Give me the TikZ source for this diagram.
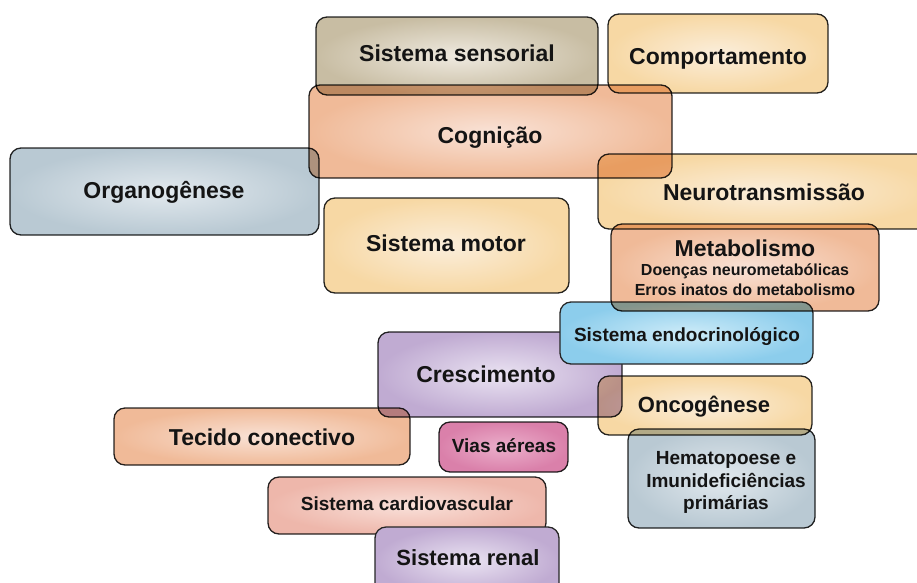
\documentclass[tikz,border=0pt]{standalone}
\usepackage{fontspec}
\setmainfont{Liberation Sans}
\definecolor{tanO}{HTML}{C8BDA3}
\definecolor{tanI}{HTML}{EFEAE0}
\definecolor{orO}{HTML}{F7D8A4}
\definecolor{orI}{HTML}{FBEEDB}
\definecolor{saO}{HTML}{F0BA98}
\definecolor{saI}{HTML}{F9E2D6}
\definecolor{bgO}{HTML}{B9C9D3}
\definecolor{bgI}{HTML}{E2E9EE}
\definecolor{lbO}{HTML}{8CCDEC}
\definecolor{lbI}{HTML}{CDEBF8}
\definecolor{puO}{HTML}{C0ABD2}
\definecolor{puI}{HTML}{EAE3F2}
\definecolor{piO}{HTML}{DA80AA}
\definecolor{piI}{HTML}{EBAFCB}
\definecolor{cvO}{HTML}{EEB7AB}
\definecolor{cvI}{HTML}{F9E0D9}
\tikzset{
  bx/.style={draw=black!85, line width=1.3pt, rounded corners=11pt, shading=radial, inner sep=0pt, rectangle},
  tanc/.style={inner color=tanI, outer color=tanO},
  orc/.style={inner color=orI, outer color=orO},
  sac/.style={inner color=saI, outer color=saO},
  bgc/.style={inner color=bgI, outer color=bgO},
  lbc/.style={inner color=lbI, outer color=lbO},
  puc/.style={inner color=puI, outer color=puO},
  pic/.style={inner color=piI, outer color=piO},
  cvc/.style={inner color=cvI, outer color=cvO},
  big/.style={anchor=base, inner sep=0pt, font=\fontsize{23}{27}\selectfont\bfseries, text=black!92},
  mid/.style={anchor=base, inner sep=0pt, font=\fontsize{22}{26}\selectfont\bfseries, text=black!92},
  sml/.style={anchor=base, inner sep=0pt, font=\fontsize{19}{22}\selectfont\bfseries, text=black!92},
  tiny/.style={anchor=base, inner sep=0pt, font=\fontsize{16}{20}\selectfont\bfseries, text=black!92},
}
\begin{document}
\begin{tikzpicture}[x=1pt,y=-1pt]
\useasboundingbox (0,0) rectangle (917,582);
\clip (0,0) rectangle (917,582);
\begin{scope}[blend mode=multiply]
\node[bx,tanc,minimum width=282pt,minimum height=78pt] (sens) at (457,56) {};
\node[bx,orc,minimum width=220pt,minimum height=79pt] (comp) at (718,53.5) {};
\node[bx,sac,minimum width=363pt,minimum height=93pt] (cogn) at (490.5,131.5) {};
\node[bx,bgc,minimum width=309pt,minimum height=87pt] (organ) at (164.5,191.5) {};
\node[bx,orc,minimum width=337pt,minimum height=75pt] (neuro) at (766.5,191.5) {};
\node[bx,orc,minimum width=245pt,minimum height=95pt] (motor) at (446.5,245.5) {};
\node[bx,puc,minimum width=244pt,minimum height=85pt] (cresc) at (500,374.5) {};
\node[bx,orc,minimum width=214pt,minimum height=59pt] (onco) at (705,405.5) {};
\node[bx,sac,minimum width=296pt,minimum height=57pt] (tecido) at (262,436.5) {};
\node[bx,pic,minimum width=129pt,minimum height=50pt] (vias) at (503.5,447) {};
\node[bx,bgc,minimum width=187pt,minimum height=99pt] (hemato) at (721.5,478.5) {};
\node[bx,cvc,minimum width=278pt,minimum height=57pt] (cardio) at (407,505.5) {};
\end{scope}
\node[bx,lbc,minimum width=253pt,minimum height=62pt] (endo) at (686.5,333) {};
\node[bx,puc,minimum width=184pt,minimum height=68pt] (renal) at (467,561) {};
\begin{scope}[blend mode=multiply]
\node[bx,sac,minimum width=268pt,minimum height=87pt] (metab) at (745,267.5) {};
\end{scope}
\node[big] (tsens) at (457,61.5) {Sistema sensorial};
\node[big] (tcomp) at (718,64.3) {Comportamento};
\node[big] (tcogn) at (490,143) {Cognição};
\node[big] (torgan) at (164,198.3) {Organogênese};
\node[big] (tneuro) at (764,200.6) {Neurotransmissão};
\node[big] (tmotor) at (446,251.6) {Sistema motor};
\node[big] (tmetab) at (745,256.6) {Metabolismo};
\node[tiny] (tmetab2) at (745,275.7) {Doenças neurometabólicas};
\node[tiny] (tmetab3) at (745,295.7) {Erros inatos do metabolismo};
\node[sml] (tendo) at (687,341.8) {Sistema endocrinológico};
\node[big] (tcresc) at (486,382.3) {Crescimento};
\node[mid] (tonco) at (704,412.2) {Oncogênese};
\node[big] (ttecido) at (262,445) {Tecido conectivo};
\node[sml] (tvias) at (504,452.5) {Vias aéreas};
\node[sml] (themato1) at (726,464.5) {Hematopoese e};
\node[sml] (themato2) at (726,487.3) {Imunideficiências};
\node[sml] (themato3) at (726,509) {primárias};
\node[sml] (tcardio) at (407,510.8) {Sistema cardiovascular};
\node[mid] (trenal) at (468,565.2) {Sistema renal};
\end{tikzpicture}
\end{document}
